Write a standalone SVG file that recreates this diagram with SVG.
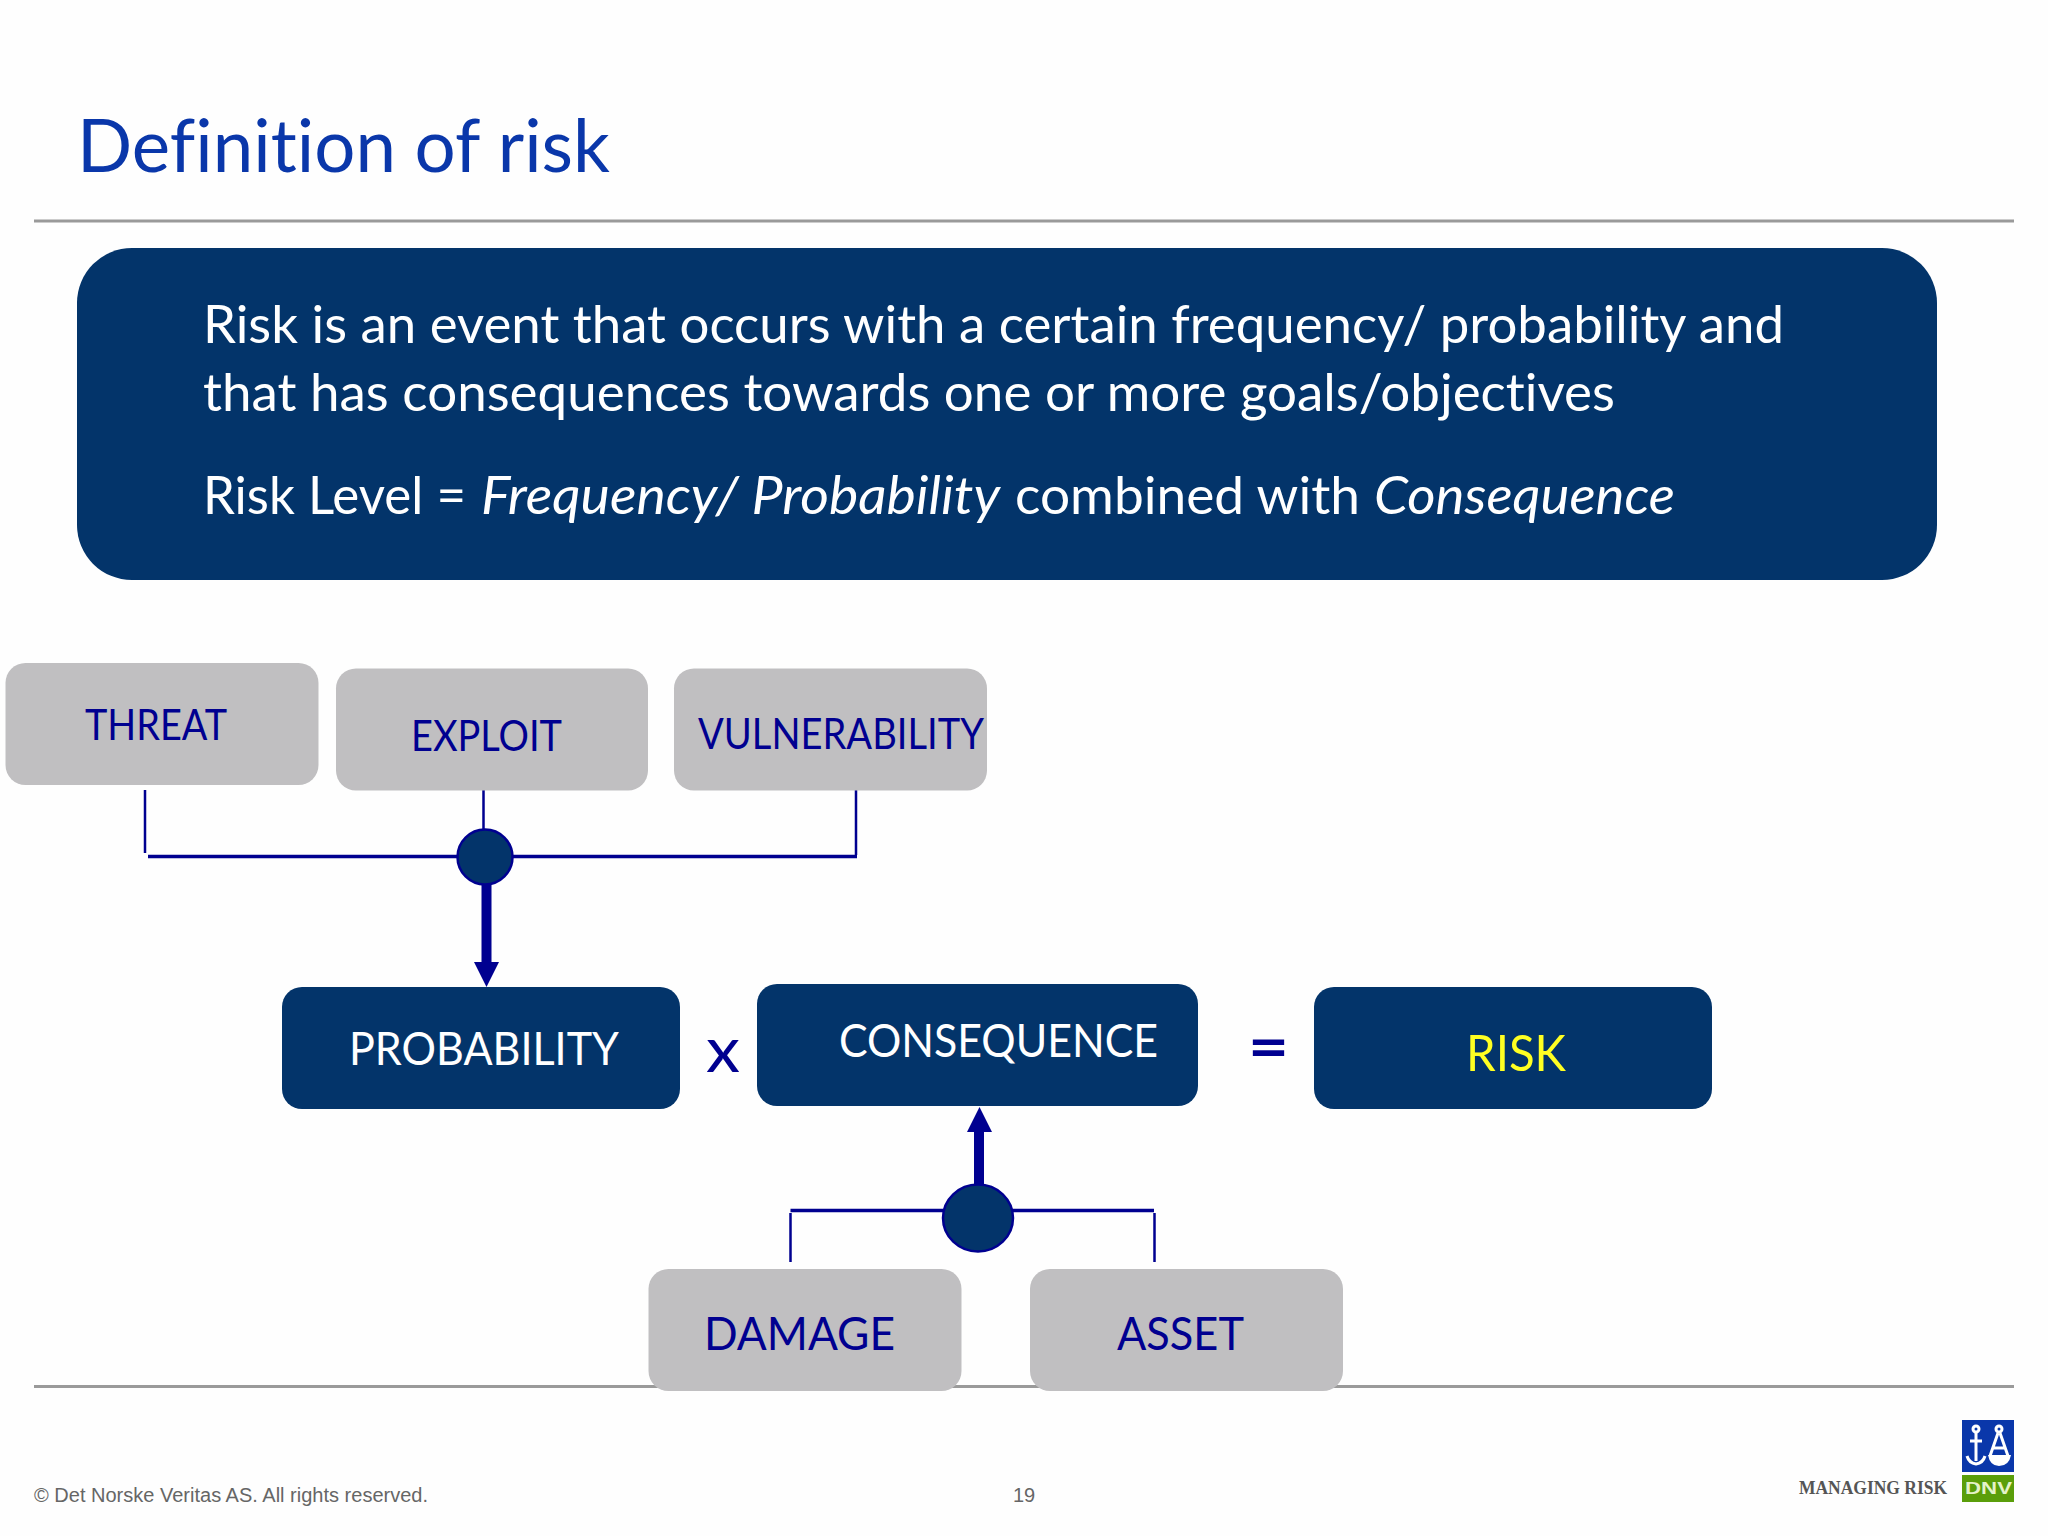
<svg xmlns="http://www.w3.org/2000/svg" width="2048" height="1536" viewBox="0 0 2048 1536">
<style>
text{font-family:"Lato","Open Sans","Noto Sans",sans-serif;font-variant-ligatures:none}
.grey{fill:#c0bfc1}
.dark{fill:#03346a}
.lg{fill:#000090;font-size:43px}
.lw{fill:#fff;font-size:47px}
.main{fill:#fff;font-size:52px}
.it{font-style:italic}
.rule{stroke:#9a9a9a;stroke-width:3;fill:none}
.thin{stroke:#000090;stroke-width:2.500;fill:none}
.bar{stroke:#000090;stroke-width:3.500;fill:none}
.thick{stroke:#000090;stroke-width:10;fill:none}
.head{fill:#000090}
.dot{fill:#03346a;stroke:#000090;stroke-width:2.500}
</style>
<rect width="2048" height="1536" fill="#fefefe"/>
<text id="title" x="77" y="172" font-size="73" fill="#0a37aa" textLength="533" lengthAdjust="spacingAndGlyphs">Definition of risk</text>
<line class="rule" x1="34" y1="221" x2="2014" y2="221"/>
<line class="rule" x1="34" y1="1386.500" x2="2014" y2="1386.500"/>
<g id="definition">
<rect class="dark" x="77" y="248" width="1860" height="332" rx="55"/>
<text class="main" x="203" y="343" textLength="1581" lengthAdjust="spacingAndGlyphs">Risk is an event that occurs with a certain frequency/ probability and</text>
<text class="main" x="203" y="411" textLength="1412" lengthAdjust="spacingAndGlyphs">that has consequences towards one or more goals/objectives</text>
<text class="main" x="203" y="514" textLength="263" lengthAdjust="spacingAndGlyphs">Risk Level =</text>
<text class="main it" x="481" y="514" textLength="519" lengthAdjust="spacingAndGlyphs">Frequency/ Probability</text>
<text class="main" x="1015" y="514" textLength="345" lengthAdjust="spacingAndGlyphs">combined with</text>
<text class="main it" x="1374" y="514" textLength="301" lengthAdjust="spacingAndGlyphs">Consequence</text>
</g>
<g id="connectors">
<path class="thin" d="M145 790V853M483.500 790V832M856 790V855"/>
<path class="bar" d="M148 856.500H857"/>
<path class="thick" d="M486.500 885V964"/>
<polygon class="head" points="474,962 499,962 486.500,987"/>
<path class="bar" d="M790.500 1210.500H1154"/>
<path class="thin" d="M790.500 1213V1262M1154.500 1213V1262"/>
<path class="thick" d="M979 1186V1130"/>
<polygon class="head" points="967,1132 992,1132 979.500,1107"/>
</g>
<g id="junction-top"><ellipse class="dot" cx="485" cy="857" rx="27.500" ry="27.500"/></g>
<g id="junction-bottom"><ellipse class="dot" cx="978" cy="1218" rx="35" ry="33.500"/></g>
<g id="threat"><rect class="grey" x="5.500" y="663" width="313" height="122" rx="20"/><text class="lg" x="85" y="740" textLength="142" lengthAdjust="spacingAndGlyphs">THREAT</text></g>
<g id="exploit"><rect class="grey" x="336" y="668.500" width="312" height="122" rx="20"/><text class="lg" x="411" y="751" textLength="151" lengthAdjust="spacingAndGlyphs">EXPLOIT</text></g>
<g id="vulnerability"><rect class="grey" x="674" y="668.500" width="313" height="122" rx="20"/><text class="lg" x="698" y="749" textLength="286" lengthAdjust="spacingAndGlyphs">VULNERABILITY</text></g>
<g id="probability"><rect class="dark" x="282" y="987" width="398" height="122" rx="20"/><text class="lw" x="349" y="1065" textLength="270" lengthAdjust="spacingAndGlyphs">PROBABILITY</text></g>
<text x="706" y="1072" font-size="62" fill="#000090" textLength="34" lengthAdjust="spacingAndGlyphs">x</text>
<g id="consequence"><rect class="dark" x="757" y="984" width="441" height="122" rx="20"/><text class="lw" x="839" y="1057" textLength="319" lengthAdjust="spacingAndGlyphs">CONSEQUENCE</text></g>
<text x="1248" y="1068" font-size="62" font-weight="bold" fill="#000090" textLength="41" lengthAdjust="spacingAndGlyphs">=</text>
<g id="risk"><rect class="dark" x="1314" y="987" width="398" height="122" rx="20"/><text x="1466" y="1071" font-size="50" fill="#ffff22" textLength="100" lengthAdjust="spacingAndGlyphs">RISK</text></g>
<g id="damage"><rect class="grey" x="648.500" y="1269" width="313" height="122" rx="20"/><text x="704" y="1350" font-size="47" fill="#000090" textLength="191" lengthAdjust="spacingAndGlyphs">DAMAGE</text></g>
<g id="asset"><rect class="grey" x="1030" y="1269" width="313" height="122" rx="20"/><text x="1117" y="1350" font-size="47" fill="#000090" textLength="127" lengthAdjust="spacingAndGlyphs">ASSET</text></g>
<text x="34" y="1502" font-size="20" fill="#666" style="font-family:'Liberation Sans',sans-serif" textLength="394">© Det Norske Veritas AS. All rights reserved.</text>
<text x="1013" y="1502" font-size="20" fill="#666" style="font-family:'Liberation Sans',sans-serif">19</text>
<text x="1799" y="1494" font-size="18.500" font-weight="bold" fill="#555" style="font-family:'Liberation Serif',serif" textLength="148" lengthAdjust="spacingAndGlyphs">MANAGING RISK</text>
<g id="logo">
<rect x="1962" y="1420" width="52" height="52" fill="#0a37aa"/>
<rect x="1962" y="1475" width="52" height="27" fill="#5a9e0a"/>
<g fill="none" stroke="#fff" stroke-width="3">
<circle cx="1976" cy="1429" r="3"/>
<path d="M1976 1432V1461M1970 1441H1982"/>
<path d="M1967 1456Q1969 1463 1976 1464Q1983 1463 1985 1456"/>
<circle cx="1999" cy="1429" r="3"/>
<path d="M1998 1433L1990 1456M2000 1433L2008 1456M1993 1448H2005"/>
</g>
<path d="M1988 1455H2011Q2009 1466 1999 1466Q1990 1466 1988 1455Z" fill="#fff"/>
<text x="1965" y="1494" font-size="17" font-weight="bold" fill="#e4f2c8" style="font-family:'Liberation Sans',sans-serif" textLength="47" lengthAdjust="spacingAndGlyphs">DNV</text>
</g>
</svg>
